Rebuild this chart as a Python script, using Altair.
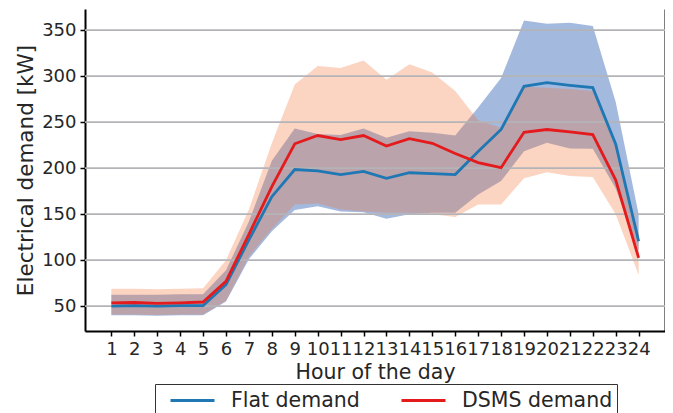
import altair as alt
import pandas as pd

hours = list(range(1, 25))
flat_mean = [50, 50.5, 50, 50.5, 50.5, 73.5, 122, 169, 198.5, 197, 193, 196.5,
             189, 195, 194, 193, 218, 242, 289, 293, 290, 287.5, 226, 120.5]
flat_lo = [40, 40, 39.5, 40, 40, 55, 101, 131.5, 154.5, 158.5, 153, 152,
           145, 150, 151.5, 151.5, 171.5, 186, 218.5, 227.5, 221.5, 221, 178, 110]
flat_hi = [62.5, 62.5, 62.5, 63, 63, 89, 142, 208, 243, 237, 236, 243,
           233, 240, 238.5, 235.5, 266, 298, 360.5, 357, 358, 354.5, 272, 150]
dsms_mean = [53.5, 54, 53, 53.5, 54.5, 77, 128, 180, 226.5, 235.5, 231, 235.5,
             224, 232, 227, 216, 206, 200.5, 239, 242, 239.5, 236.5, 187, 102.5]
dsms_lo = [41, 41, 40.5, 41, 41, 56, 104, 134, 160.5, 161.5, 155, 153,
           151.5, 151.5, 150, 147, 160.5, 160.5, 189, 195.5, 191.5, 190.5, 150, 84]
dsms_hi = [69, 69, 68.5, 69, 69.5, 100, 155, 227, 291, 311, 309, 317,
           296, 313, 304, 284, 252, 244, 288.5, 287.5, 286, 284, 222, 130]
series_names = ["Flat demand", "DSMS demand"]
y_ticks = [50, 100, 150, 200, 250, 300, 350]

FONT = "DejaVu Sans"
TXT = "#262626"
BLUE = "#1f77b4"
RED = "#e41a1c"

wide = pd.DataFrame({
    "hour": hours, "flat_mean": flat_mean, "flat_lo": flat_lo, "flat_hi": flat_hi,
    "dsms_lo": dsms_lo, "dsms_hi": dsms_hi,
})
long = pd.DataFrame({
    "hour": hours * 2,
    "value": flat_mean + dsms_mean,
    "series": [series_names[0]] * 24 + [series_names[1]] * 24,
    "order": [0] * 24 + [1] * 24,
})
grid_df = pd.DataFrame({"tick": y_ticks})

xscale = alt.Scale(domain=[-0.15, 25.15], nice=False, zero=False)
yscale = alt.Scale(domain=[23, 373], nice=False, zero=False)

x_axis = alt.Axis(values=hours, labelOverlap=False, labelFlush=False, grid=False,
                  domainColor="black", domainWidth=2, tickColor="black", tickWidth=1.5,
                  tickSize=5, labelFontSize=18, labelPadding=4, labelFont=FONT,
                  labelColor=TXT, title="Hour of the day", titleFontSize=20.5,
                  titleFont=FONT, titleColor=TXT, titleFontWeight="normal", titlePadding=4)
y_axis = alt.Axis(values=y_ticks, grid=False, domainColor="black", domainWidth=2,
                  tickColor="black", tickWidth=1.5, tickSize=5, labelFontSize=18,
                  labelPadding=4, labelFont=FONT, labelColor=TXT,
                  title="Electrical demand [kW]", titleFontSize=21.5, titleFont=FONT,
                  titleColor=TXT, titleFontWeight="normal", titlePadding=4)
right_axis = alt.Axis(orient="right", labels=False, ticks=False, grid=False,
                      domainColor="black", domainWidth=2, title=None)

X = alt.X("hour:Q", scale=xscale, axis=x_axis)

area_flat = alt.Chart(wide).mark_area(color="#4973bd", opacity=0.5).encode(
    x=X, y=alt.Y("flat_lo:Q", scale=yscale, axis=y_axis), y2="flat_hi:Q")
area_dsms = alt.Chart(wide).mark_area(color="#f17034", opacity=0.3).encode(
    x=X, y=alt.Y("dsms_lo:Q", scale=yscale, axis=None), y2="dsms_hi:Q")
grid = alt.Chart(grid_df).mark_rule(color="#b4b4b8", strokeWidth=1.6).encode(
    y=alt.Y("tick:Q", scale=yscale, axis=None))
lines = alt.Chart(long).mark_line(strokeWidth=2.8).encode(
    x=X, y=alt.Y("value:Q", scale=yscale, axis=None),
    color=alt.Color("series:N",
                    scale=alt.Scale(domain=series_names, range=[BLUE, RED]),
                    legend=alt.Legend(title=None, orient="none", legendX=70, legendY=375,
                                      direction="horizontal", symbolType="M-2,0H2",
                                      symbolSize=484, symbolStrokeWidth=3,
                                      labelFontSize=20.5, labelFont=FONT, labelColor=TXT,
                                      columnPadding=30, padding=4, strokeColor="#333333",
                                      fillColor="white", labelOffset=26, symbolOffset=21,
                                      cornerRadius=0)),
    order="order:Q")
right = alt.Chart(wide).mark_line(opacity=0).encode(
    x=X, y=alt.Y("flat_mean:Q", scale=yscale, axis=right_axis))

chart = alt.layer(area_flat, area_dsms, grid, lines, right).resolve_axis(
    y="independent").properties(
    width=580, height=322,
    autosize=alt.AutoSizeParams(type="none"),
    padding={"left": 77, "top": 1, "right": 0, "bottom": 82},
    background="white",
).configure_view(stroke=None)

chart.save("out.html", embed_options={"renderer": "svg", "actions": False})
